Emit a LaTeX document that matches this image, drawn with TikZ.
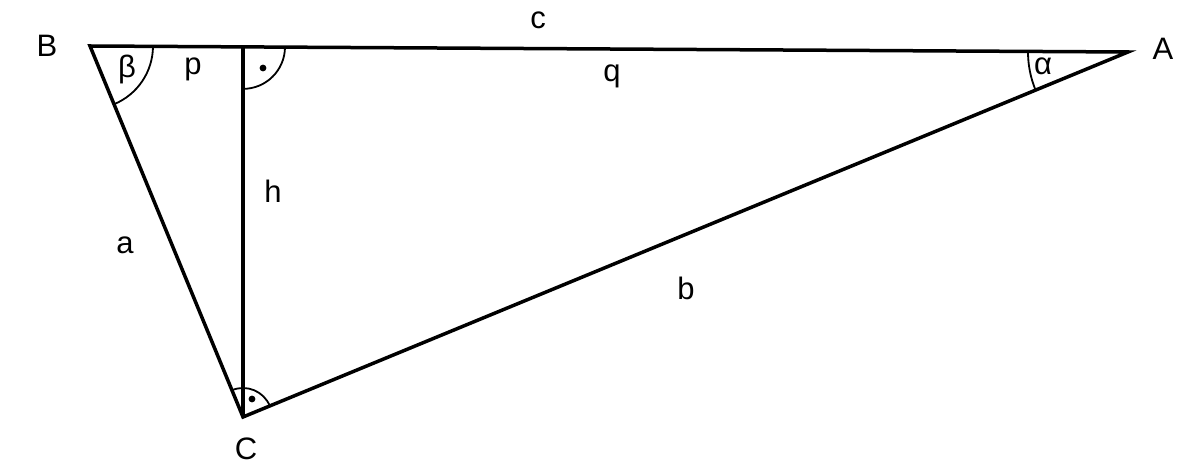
\documentclass[tikz,border=0pt]{standalone}
\usepackage{fontspec}
\setmainfont{Liberation Sans}
\usetikzlibrary{angles}
\begin{document}
\begin{tikzpicture}[x=1pt,y=1pt,
  side/.style={line width=3.5pt},
  arcmark/.style={draw,line width=1.8pt},
  lbl/.style={anchor=base,inner sep=0pt,font=\fontsize{31}{36}\selectfont},
  dotmark/.style={fill=black}]
\useasboundingbox (0,0) rectangle (1180,476);
\coordinate (B) at (90,430);
\coordinate (A) at (1128,424);
\coordinate (C) at (243,59);
\coordinate (H) at (243,429.12);
% angle marks
\pic[arcmark,angle radius=63pt] {angle=C--B--A};
\pic[arcmark,angle radius=100pt] {angle=B--A--C};
\pic[arcmark,angle radius=29pt] {angle=A--C--B};
\pic[arcmark,angle radius=42pt] {angle=C--H--A};
\fill[dotmark] (263,408) circle (3.4pt);
\fill[dotmark] (252,77) circle (3.4pt);
% sides
\draw[side] (B) -- (A) -- (C) -- cycle;
\draw[side] (H) -- (C);
% labels
\node[lbl] (lB) at (47,419) {B};
\node[lbl] (lA) at (1163,416) {A};
\node[lbl] (lC) at (246,16) {C};
\node[lbl] (lc) at (538,447) {c};
\node[lbl] (lp) at (193,401) {p};
\node[lbl] (lq) at (612,394) {q};
\node[lbl] (lbeta) at (127,398) {β};
\node[lbl] (lalpha) at (1043,401) {α};
\node[lbl] (lh) at (273,273) {h};
\node[lbl] (la) at (125,222) {a};
\node[lbl] (lb) at (686,176) {b};
\end{tikzpicture}
\end{document}
